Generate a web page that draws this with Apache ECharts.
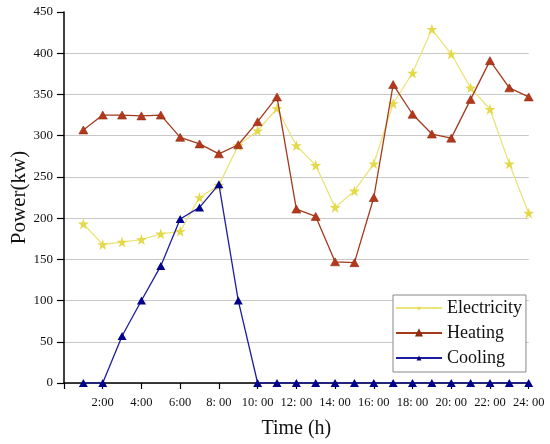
<!DOCTYPE html>
<html>
<head>
<meta charset="utf-8">
<script src="https://cdn.jsdelivr.net/npm/echarts@6.0.0/dist/echarts.min.js"></script>
<style>html,body{margin:0;padding:0;background:#fff;}#c{width:550px;height:444px;}</style>
</head>
<body>
<div id="c"></div>
<script>
var hours = [1,2,3,4,5,6,7,8,9,10,11,12,13,14,15,16,17,18,19,20,21,22,23,24];
var electricity = [193,168,171,174,181,184,225,240,288,306,333,288,264,213,233,266,339,376,429,399,358,332,266,206];
var heating = [307,325,325,324,325,298,290,278,289,317,347,211,202,147,146,225,362,326,302,297,344,391,358,347];
var cooling = [0,0,57,100,142,199,213,241,100,0,0,0,0,0,0,0,0,0,0,0,0,0,0,0];
var xTickLabels = ['', '2:00', '4:00', '6:00', '8: 00', '10: 00', '12: 00', '14: 00', '16: 00', '18: 00', '20: 00', '22: 00', '24: 00'];

var starPath = 'path://M0,-100 L22.45,-30.9 L95.1,-30.9 L36.3,11.8 L58.8,80.9 L0,38.2 L-58.8,80.9 L-36.3,11.8 L-95.1,-30.9 L-22.45,-30.9 Z';
var FF = '"Liberation Serif", "Times New Roman", serif';

function pairs(vals){ return hours.map(function(h,i){ return [h, vals[i]]; }); }

var chart = echarts.init(document.getElementById('c'), null, {renderer:'canvas'});
chart.setOption({
  animation: false,
  backgroundColor: '#fff',
  textStyle: {fontFamily: FF},
  grid: {left: 64, right: 21.3, top: 12, bottom: 61, containLabel: false, outerBoundsMode: 'none'},
  legend: {
    orient: 'vertical',
    left: 393, top: 295,
    backgroundColor: '#fff',
    borderColor: '#888', borderWidth: 1,
    padding: [3, 4, 4, 2],
    itemWidth: 46, itemHeight: 6, itemGap: 5,
    textStyle: {fontFamily: FF, fontSize: 18, color: '#111', lineHeight: 20},
    data: ['Electricity', 'Heating', 'Cooling']
  },
  xAxis: {
    type: 'value', min: 0, max: 24, interval: 2,
    name: 'Time (h)', nameLocation: 'middle', nameGap: 36, nameMoveOverlap: false,
    nameTextStyle: {fontFamily: FF, fontSize: 20, color: '#111'},
    axisLine: {show: true, lineStyle: {color: '#000', width: 1.5}},
    axisTick: {show: true, length: 6, lineStyle: {color: '#000', width: 1.2}},
    axisLabel: {margin: 13, fontFamily: FF, fontSize: 12.5, color: '#111',
      formatter: function(v){ return xTickLabels[Math.round(v/2)] || ''; }},
    splitLine: {show: false}
  },
  yAxis: {
    type: 'value', min: 0, max: 450, interval: 50,
    name: 'Power(kw)', nameLocation: 'middle', nameGap: 34, nameMoveOverlap: false,
    nameTextStyle: {fontFamily: FF, fontSize: 21, color: '#111'},
    axisLine: {show: true, lineStyle: {color: '#000', width: 1.5}},
    axisTick: {show: true, length: 7, lineStyle: {color: '#000', width: 1.2}},
    axisLabel: {margin: 11, fontFamily: FF, fontSize: 13, color: '#111'},
    splitLine: {show: true, showMaxLine: false, lineStyle: {color: '#c8c8c8', width: 1}}
  },
  series: [
    {
      name: 'Electricity', type: 'line', data: pairs(electricity),
      symbol: starPath, symbolSize: 11,
      lineStyle: {color: '#ebe47a', width: 1.3},
      itemStyle: {color: '#e4d94a'},
      z: 2
    },
    {
      name: 'Heating', type: 'line', data: pairs(heating),
      symbol: 'triangle', symbolSize: [9, 8],
      lineStyle: {color: '#a33a1c', width: 1.3},
      itemStyle: {color: '#b5381c', borderColor: '#8a2c10', borderWidth: 0.6},
      z: 3
    },
    {
      name: 'Cooling', type: 'line', data: pairs(cooling),
      symbol: 'triangle', symbolSize: [9, 8],
      lineStyle: {color: '#1c1ca0', width: 1.3},
      itemStyle: {color: '#00008b'},
      z: 4
    }
  ]
});
</script>
</body>
</html>
